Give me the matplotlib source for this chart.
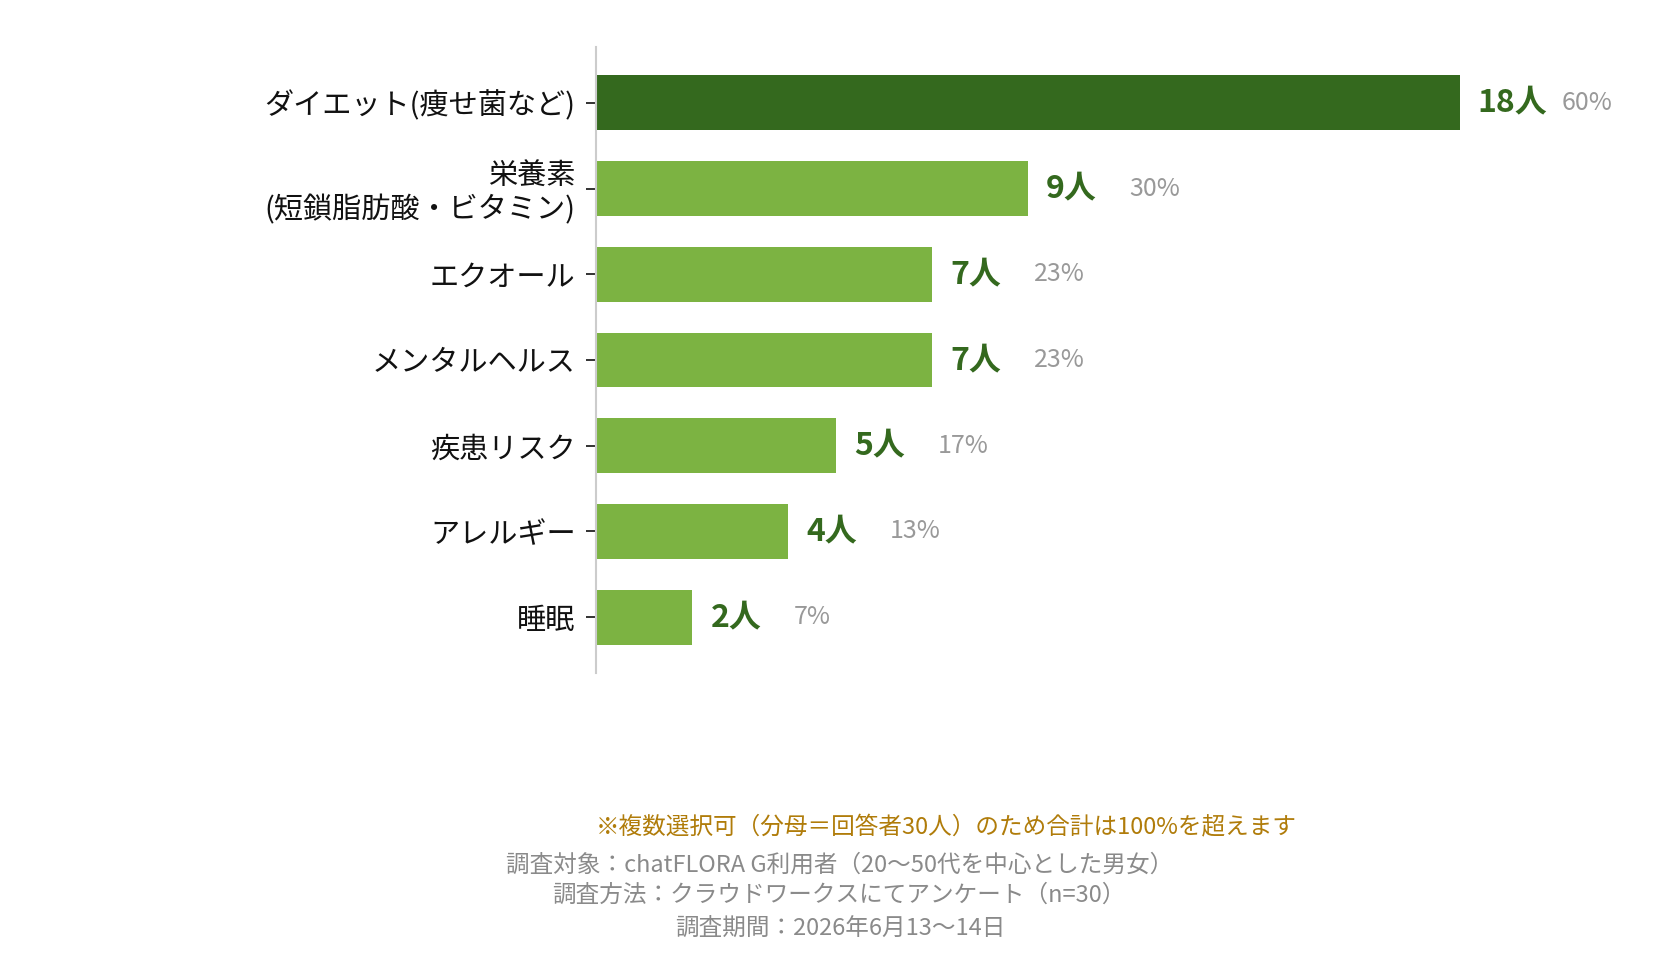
import matplotlib
matplotlib.use("Agg")
import matplotlib.pyplot as plt

plt.rcParams['font.family'] = ['Noto Sans CJK JP', 'DejaVu Sans']

categories = ["ダイエット(痩せ菌など)", "栄養素\n(短鎖脂肪酸・ビタミン)", "エクオール", "メンタルヘルス",
              "疾患リスク", "アレルギー", "睡眠"]
counts = [18, 9, 7, 7, 5, 4, 2]
percents = ["60%", "30%", "23%", "23%", "17%", "13%", "7%"]
count_labels = [f"{c}人" for c in counts]

dark_green = "#34691E"
light_green = "#7CB342"
colors = [dark_green] + [light_green] * (len(counts) - 1)

fig = plt.figure(figsize=(16.8, 9.6), dpi=100)
ax = fig.add_axes([0.355, 0.299, 0.571, 0.652])

y = list(range(len(categories)))
ax.barh(y, counts, height=0.64, color=colors)
ax.set_xlim(0, 20)
ax.set_ylim(6.65, -0.65)
ax.set_yticks(y)
ax.set_yticklabels(categories, fontsize=21, color="#111111", linespacing=1.15)
ax.tick_params(axis='y', length=7, width=1.3, color="#222222", pad=8)
ax.set_xticks([])
for s in ["top", "right", "bottom"]:
    ax.spines[s].set_visible(False)
ax.spines["left"].set_color("#cccccc")
ax.spines["left"].set_linewidth(1.5)

for yi, c, cl, p in zip(y, counts, count_labels, percents):
    ax.annotate(cl, (c, yi), xytext=(13, 0), textcoords="offset points",
                va="center", ha="left", fontsize=23, fontweight="bold", color=dark_green)
    ax.annotate(p, (c, yi), xytext=(73, 0), textcoords="offset points",
                va="center", ha="left", fontsize=18, color="#999999")

fig.text(0.563, 0.138, "※複数選択可（分母＝回答者30人）のため合計は100%を超えます",
         ha="center", va="center", fontsize=17, color="#B07C0A")
fig.text(0.4995, 0.099, "調査対象：chatFLORA G利用者（20〜50代を中心とした男女）",
         ha="center", va="center", fontsize=17, color="#8a8a8a")
fig.text(0.4995, 0.067, "調査方法：クラウドワークスにてアンケート（n=30）",
         ha="center", va="center", fontsize=17, color="#8a8a8a")
fig.text(0.500, 0.033, "調査期間：2026年6月13〜14日",
         ha="center", va="center", fontsize=17, color="#8a8a8a")

fig.savefig("out.png", dpi=100)
